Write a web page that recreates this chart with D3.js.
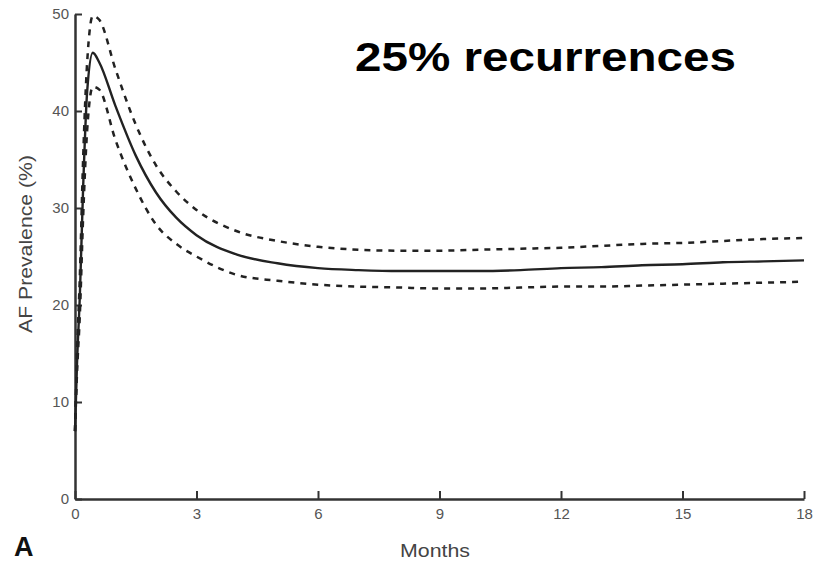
<!DOCTYPE html>
<html>
<head>
<meta charset="utf-8">
<script src="https://cdn.jsdelivr.net/npm/d3@7"></script>
<style>
  html, body { margin: 0; padding: 0; background: #fff; }
  svg { display: block; font-family: "Liberation Sans", Arial, Helvetica, sans-serif; }
</style>
</head>
<body>
<svg id="chart" width="817" height="562"></svg>
<script>
// Months (x) sampled along the curves
const months = [0, 0.05, 0.12, 0.2, 0.3, 0.44, 0.6, 1, 1.5, 2, 2.5, 3, 4, 5, 6, 7, 8, 9, 10, 11, 12, 13, 14, 15, 16, 17, 18];
// Mean AF prevalence (%) — solid line
const meanPrev = [7, 14, 21, 32, 42, 46, 45, 40.5, 35.4, 31.6, 29, 27.2, 25.2, 24.3, 23.8, 23.6, 23.5, 23.5, 23.5, 23.6, 23.8, 23.9, 24.1, 24.2, 24.4, 24.5, 24.6];
// Upper confidence bound (%) — dashed line
const upperPrev = [7, 15, 23, 35, 45, 49.8, 49.4, 44.3, 38.6, 34.4, 31.7, 29.8, 27.6, 26.6, 26.0, 25.7, 25.6, 25.6, 25.7, 25.8, 25.9, 26.1, 26.3, 26.4, 26.6, 26.8, 26.9];
// Lower confidence bound (%) — dashed line
const lowerPrev = [7, 13, 19, 29, 38, 42.5, 42.2, 37, 32, 28.3, 26.3, 25.0, 23.1, 22.5, 22.1, 21.9, 21.8, 21.7, 21.7, 21.8, 21.9, 21.9, 22.0, 22.1, 22.2, 22.3, 22.4];
// Tick labels
const xTicks = [0, 3, 6, 9, 12, 15, 18];
const yTicks = [0, 10, 20, 30, 40, 50];

const svg = d3.select("#chart");
const x = d3.scaleLinear().domain([0, 18]).range([75, 804]);
const y = d3.scaleLinear().domain([0, 50]).range([499, 14]);

const axisColor = "#333";
const labelColor = "#555";

// Y axis
const gy = svg.append("g").attr("transform", "translate(75,0)")
  .call(d3.axisLeft(y).tickValues(yTicks).tickSize(-7).tickSizeOuter(0).tickPadding(6).tickFormat(d3.format("d")));
gy.select(".domain").attr("stroke", axisColor).attr("stroke-width", 2.5);
gy.selectAll(".tick line").attr("stroke", axisColor).attr("stroke-width", 2);
gy.selectAll(".tick text").attr("fill", labelColor).style("font-size", "15px");

// X axis
const gx = svg.append("g").attr("transform", "translate(0,499)")
  .call(d3.axisBottom(x).tickValues(xTicks).tickSize(-8).tickSizeOuter(0).tickPadding(9).tickFormat(d3.format("d")));
gx.select(".domain").attr("stroke", axisColor).attr("stroke-width", 2.5);
gx.selectAll(".tick line").attr("stroke", axisColor).attr("stroke-width", 2);
gx.selectAll(".tick text").attr("fill", labelColor).style("font-size", "15px");

// Lines
const line = vals => d3.line()
  .x((d, i) => x(months[i]))
  .y(d => y(d))
  .curve(d3.curveMonotoneX)(vals);

svg.append("path").attr("d", line(upperPrev))
  .attr("fill", "none").attr("stroke", "#222").attr("stroke-width", 2.5).attr("stroke-dasharray", "6,6");
svg.append("path").attr("d", line(lowerPrev))
  .attr("fill", "none").attr("stroke", "#222").attr("stroke-width", 2.5).attr("stroke-dasharray", "6,6");
svg.append("path").attr("d", line(meanPrev))
  .attr("fill", "none").attr("stroke", "#222").attr("stroke-width", 2.4);

// Axis titles
svg.append("text").attr("x", 435).attr("y", 557).attr("text-anchor", "middle")
  .attr("fill", "#444").style("font-size", "19px")
  .attr("textLength", 70).attr("lengthAdjust", "spacingAndGlyphs").text("Months");
svg.append("text").attr("transform", "translate(32,244) rotate(-90)").attr("text-anchor", "middle")
  .attr("fill", "#444").style("font-size", "19px")
  .attr("textLength", 178).attr("lengthAdjust", "spacingAndGlyphs").text("AF Prevalence (%)");

// Panel letter
svg.append("text").attr("x", 14).attr("y", 556)
  .attr("fill", "#111").style("font-size", "27px").style("font-weight", "bold").text("A");

// Annotation
svg.append("text").attr("x", 355).attr("y", 71)
  .attr("fill", "#000").style("font-size", "40px").style("font-weight", "bold")
  .attr("textLength", 381).attr("lengthAdjust", "spacingAndGlyphs").text("25% recurrences");
</script>
</body>
</html>
